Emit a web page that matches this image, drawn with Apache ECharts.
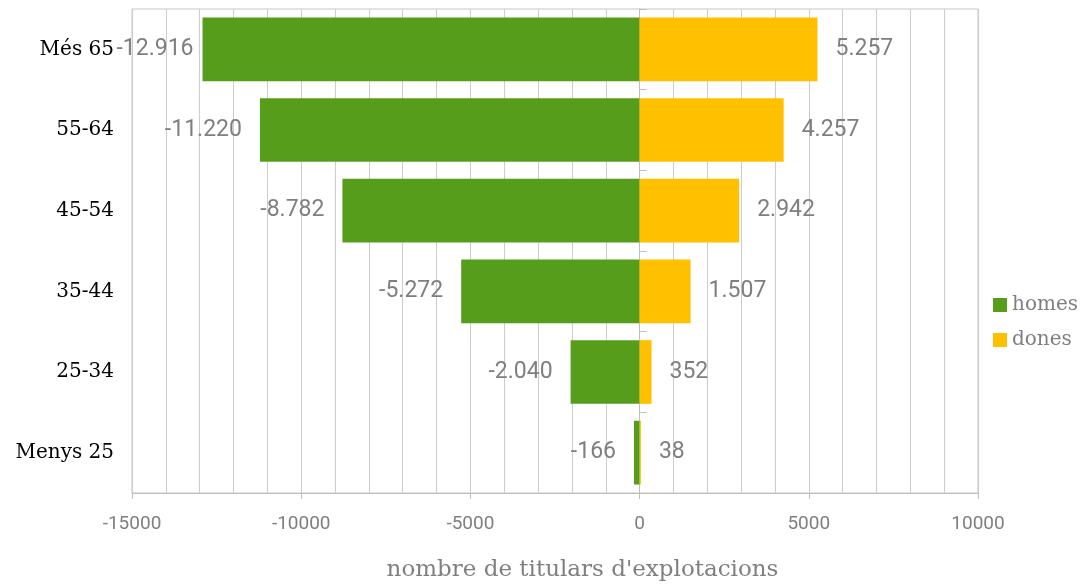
<!DOCTYPE html>
<html><head><meta charset="utf-8">
<script src="https://cdn.jsdelivr.net/npm/echarts@6/dist/echarts.min.js"></script>
<style>html,body{margin:0;padding:0;background:#fff}#c{width:1091px;height:585px}</style>
</head><body><div id="c"></div>
<script>
const categories = ['Menys 25','25-34','35-44','45-54','55-64','Més 65'];
const homes = [-166, -2040, -5272, -8782, -11220, -12916];
const dones = [38, 352, 1507, 2942, 4257, 5257];
const xTicks = [-15000, -10000, -5000, 0, 5000, 10000];

function fmt(v){
  const s = Math.abs(v).toString().replace(/\B(?=(\d{3})+(?!\d))/g, '.');
  return (v < 0 ? '-' : '') + s;
}
const chart = echarts.init(document.getElementById('c'));
const labelStyle = {fontFamily:'Roboto', fontSize:23, color:'#7f7f7f'};
const homesData = homes.map((v, i) => i === homes.length - 1 ? {value: v, label: {distance: 9}} : v);
chart.setOption({
  animation:false,
  grid:{left:132, right:113, top:9, bottom:92, show:true, borderColor:'#c8c8c8', borderWidth:1,
    containLabel:false, outerBoundsMode:'none'},
  legend:{orient:'vertical', left:988, top:290, itemWidth:14, itemHeight:14, itemGap:15,
    icon:'rect', textStyle:{fontFamily:'DejaVu Serif', fontSize:20, color:'#7f7f7f'},
    data:['homes','dones']},
  xAxis:{type:'value', min:xTicks[0], max:xTicks[xTicks.length-1], interval:5000,
    axisLine:{show:true, onZero:false, lineStyle:{color:'#bfbfbf'}},
    axisTick:{show:true, length:6, lineStyle:{color:'#bfbfbf'}},
    axisLabel:{fontFamily:'Roboto', fontSize:19, color:'#7f7f7f', margin:22, formatter:v=>String(v)},
    splitLine:{show:true, lineStyle:{color:'#cccccc'}},
    minorTick:{show:false, splitNumber:5},
    minorSplitLine:{show:true, lineStyle:{color:'#cccccc'}},
    name:"nombre de titulars d'explotacions", nameLocation:'middle', nameGap:66,
    nameTextStyle:{fontFamily:'DejaVu Serif', fontSize:23, color:'#7f7f7f', padding:[0,0,0,55]}},
  yAxis:[
    {type:'category', data:categories, position:'left',
      axisLine:{show:false, onZero:false}, axisTick:{show:false},
      axisLabel:{fontFamily:'DejaVu Serif', fontSize:20, color:'#000', margin:18}},
    {type:'category', data:categories, position:'left',
      axisLine:{show:true, onZero:true, lineStyle:{color:'#bfbfbf'}},
      axisTick:{show:true, inside:true, length:7, lineStyle:{color:'#bfbfbf'}},
      axisLabel:{show:false}}
  ],
  series:[
    {name:'homes', type:'bar', stack:'t', data:homesData, barCategoryGap:'21%',
      itemStyle:{color:'#579d1c'},
      label:{show:true, position:'left', distance:18, ...labelStyle, formatter:p=>fmt(p.value)}},
    {name:'dones', type:'bar', stack:'t', data:dones, barCategoryGap:'21%',
      itemStyle:{color:'#ffc000'},
      label:{show:true, position:'right', distance:18, ...labelStyle, formatter:p=>fmt(p.value)}}
  ]
});
</script></body></html>
